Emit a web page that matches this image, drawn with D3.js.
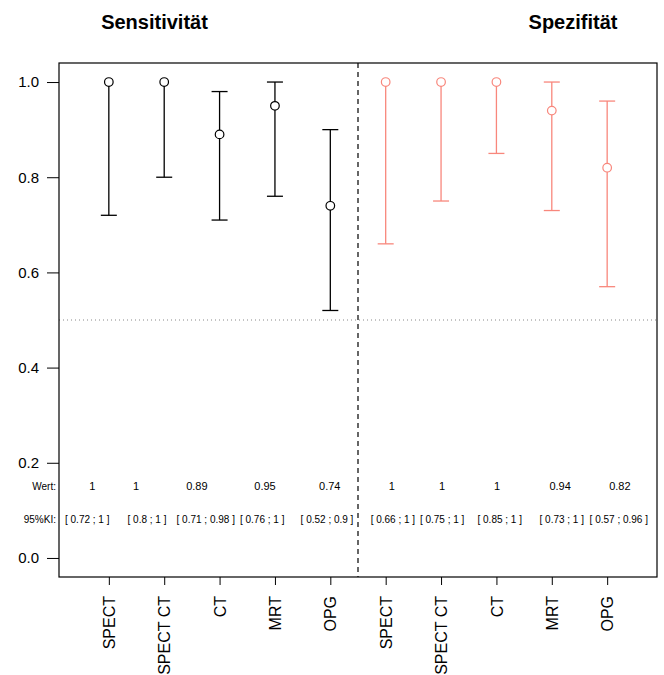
<!DOCTYPE html>
<html><head><meta charset="utf-8">
<script src="https://cdn.jsdelivr.net/npm/d3@7"></script>
<style>body{margin:0;background:#fff}svg{display:block}text{font-family:"Liberation Sans",Arial,sans-serif}</style>
</head><body><svg id="c" width="664" height="675"></svg>
<script>
const categories = ["SPECT","SPECT CT","CT","MRT","OPG"];
const sensValue = [1, 1, 0.89, 0.95, 0.74];
const sensLower = [0.72, 0.8, 0.71, 0.76, 0.52];
const sensUpper = [1, 1, 0.98, 1, 0.9];
const specValue = [1, 1, 1, 0.94, 0.82];
const specLower = [0.66, 0.75, 0.85, 0.73, 0.57];
const specUpper = [1, 1, 1, 1, 0.96];
const yTicks = [0, 0.2, 0.4, 0.6, 0.8, 1.0];
const groupTitles = ["Sensitivität", "Spezifität"];
const groupColors = ["#000000", "#F8877C"];

// layout: x positions (axis units) where the annotation texts were placed
const valueTextPos = [0.70, 1.49, 2.59, 3.82, 4.99, 6.11, 7.02, 8.01, 9.15, 10.23];
const ciTextPos = [0.61, 1.69, 2.75, 3.77, 4.94, 6.13, 7.02, 8.06, 9.18, 10.21];

const svg = d3.select("#c");
const L = 59, R = 657, T = 63, B = 577;
const x = d3.scaleLinear().domain([0.1, 10.9]).range([L, R]);
const y = d3.scaleLinear().domain([-0.04, 1.04]).range([B, T]);

const rows = [];
[[sensValue, sensLower, sensUpper], [specValue, specLower, specUpper]].forEach((g, gi) => {
  categories.forEach((c, i) => rows.push({cat: c, pos: gi*5 + i + 1, v: g[0][i], lo: g[1][i], hi: g[2][i], col: groupColors[gi]}));
});

// reference lines
svg.append("line").attr("x1", L).attr("x2", R).attr("y1", y(0.5)).attr("y2", y(0.5))
  .attr("stroke", "#888").attr("stroke-width", 1).attr("stroke-dasharray", "1,3");
svg.append("line").attr("x1", x(5.5)).attr("x2", x(5.5)).attr("y1", T).attr("y2", B)
  .attr("stroke", "#000").attr("stroke-width", 1.2).attr("stroke-dasharray", "5,4");

// error bars (value -> bound, cap only when non-zero length)
const capW = 8;
const g = svg.append("g");
rows.forEach(d => {
  [d.lo, d.hi].forEach(v => {
    if (v === d.v) return;
    g.append("line").attr("x1", x(d.pos)).attr("x2", x(d.pos)).attr("y1", y(d.v)).attr("y2", y(v)).attr("stroke", d.col).attr("stroke-width", 1.3);
    g.append("line").attr("x1", x(d.pos)-capW).attr("x2", x(d.pos)+capW).attr("y1", y(v)).attr("y2", y(v)).attr("stroke", d.col).attr("stroke-width", 1.3);
  });
  g.append("circle").attr("cx", x(d.pos)).attr("cy", y(d.v)).attr("r", 4.3).attr("fill", "#fff").attr("stroke", d.col).attr("stroke-width", 1.2);
});

// value & CI texts
const fmt = v => String(v);
rows.forEach((d, i) => {
  svg.append("text").attr("x", x(valueTextPos[i])).attr("y", y(0.15)).attr("text-anchor", "middle").attr("dy", "0.35em")
    .attr("font-size", 11).text(fmt(d.v));
  svg.append("text").attr("x", x(ciTextPos[i])).attr("y", y(0.08)).attr("text-anchor", "middle").attr("dy", "0.35em")
    .attr("font-size", 10).text("[ " + fmt(d.lo) + " ; " + fmt(d.hi) + " ]");
});
svg.append("text").attr("x", 56).attr("y", y(0.15)).attr("dy", "0.35em").attr("text-anchor", "end").attr("font-size", 10).text("Wert:");
svg.append("text").attr("x", 56).attr("y", y(0.08)).attr("dy", "0.35em").attr("text-anchor", "end").attr("font-size", 10).text("95%KI:");

// box
svg.append("rect").attr("x", L).attr("y", T).attr("width", R-L).attr("height", B-T).attr("fill", "none").attr("stroke", "#000").attr("stroke-width", 1.2);

// y axis
const yAxis = d3.axisLeft(y).tickValues(yTicks).tickFormat(d3.format(".1f")).tickSize(12).tickPadding(8);
const ya = svg.append("g").attr("transform", `translate(${L},0)`).call(yAxis);
ya.select(".domain").remove();
ya.selectAll("text").attr("font-size", 15).attr("font-family", "Liberation Sans, Arial, sans-serif").attr("fill", "#000");
ya.selectAll("line").attr("stroke", "#000");

// x axis
const xAxis = d3.axisBottom(x).tickValues(rows.map(d => d.pos)).tickFormat((p, i) => rows[i].cat).tickSize(8).tickPadding(0);
const xa = svg.append("g").attr("transform", `translate(0,${B})`).call(xAxis);
xa.select(".domain").remove();
xa.selectAll("line").attr("stroke", "#000");
xa.selectAll("text").attr("font-size", 16).attr("font-family", "Liberation Sans, Arial, sans-serif").attr("fill", "#000")
  .attr("text-anchor", "end").attr("transform", "rotate(-90)").attr("x", -19).attr("y", 0).attr("dy", "0.35em");

// titles
[[154.5, groupTitles[0]], [573, groupTitles[1]]].forEach(([px, t]) =>
  svg.append("text").attr("x", px).attr("y", 29).attr("text-anchor", "middle").attr("font-size", 20).attr("font-weight", "bold").text(t));
</script></body></html>
